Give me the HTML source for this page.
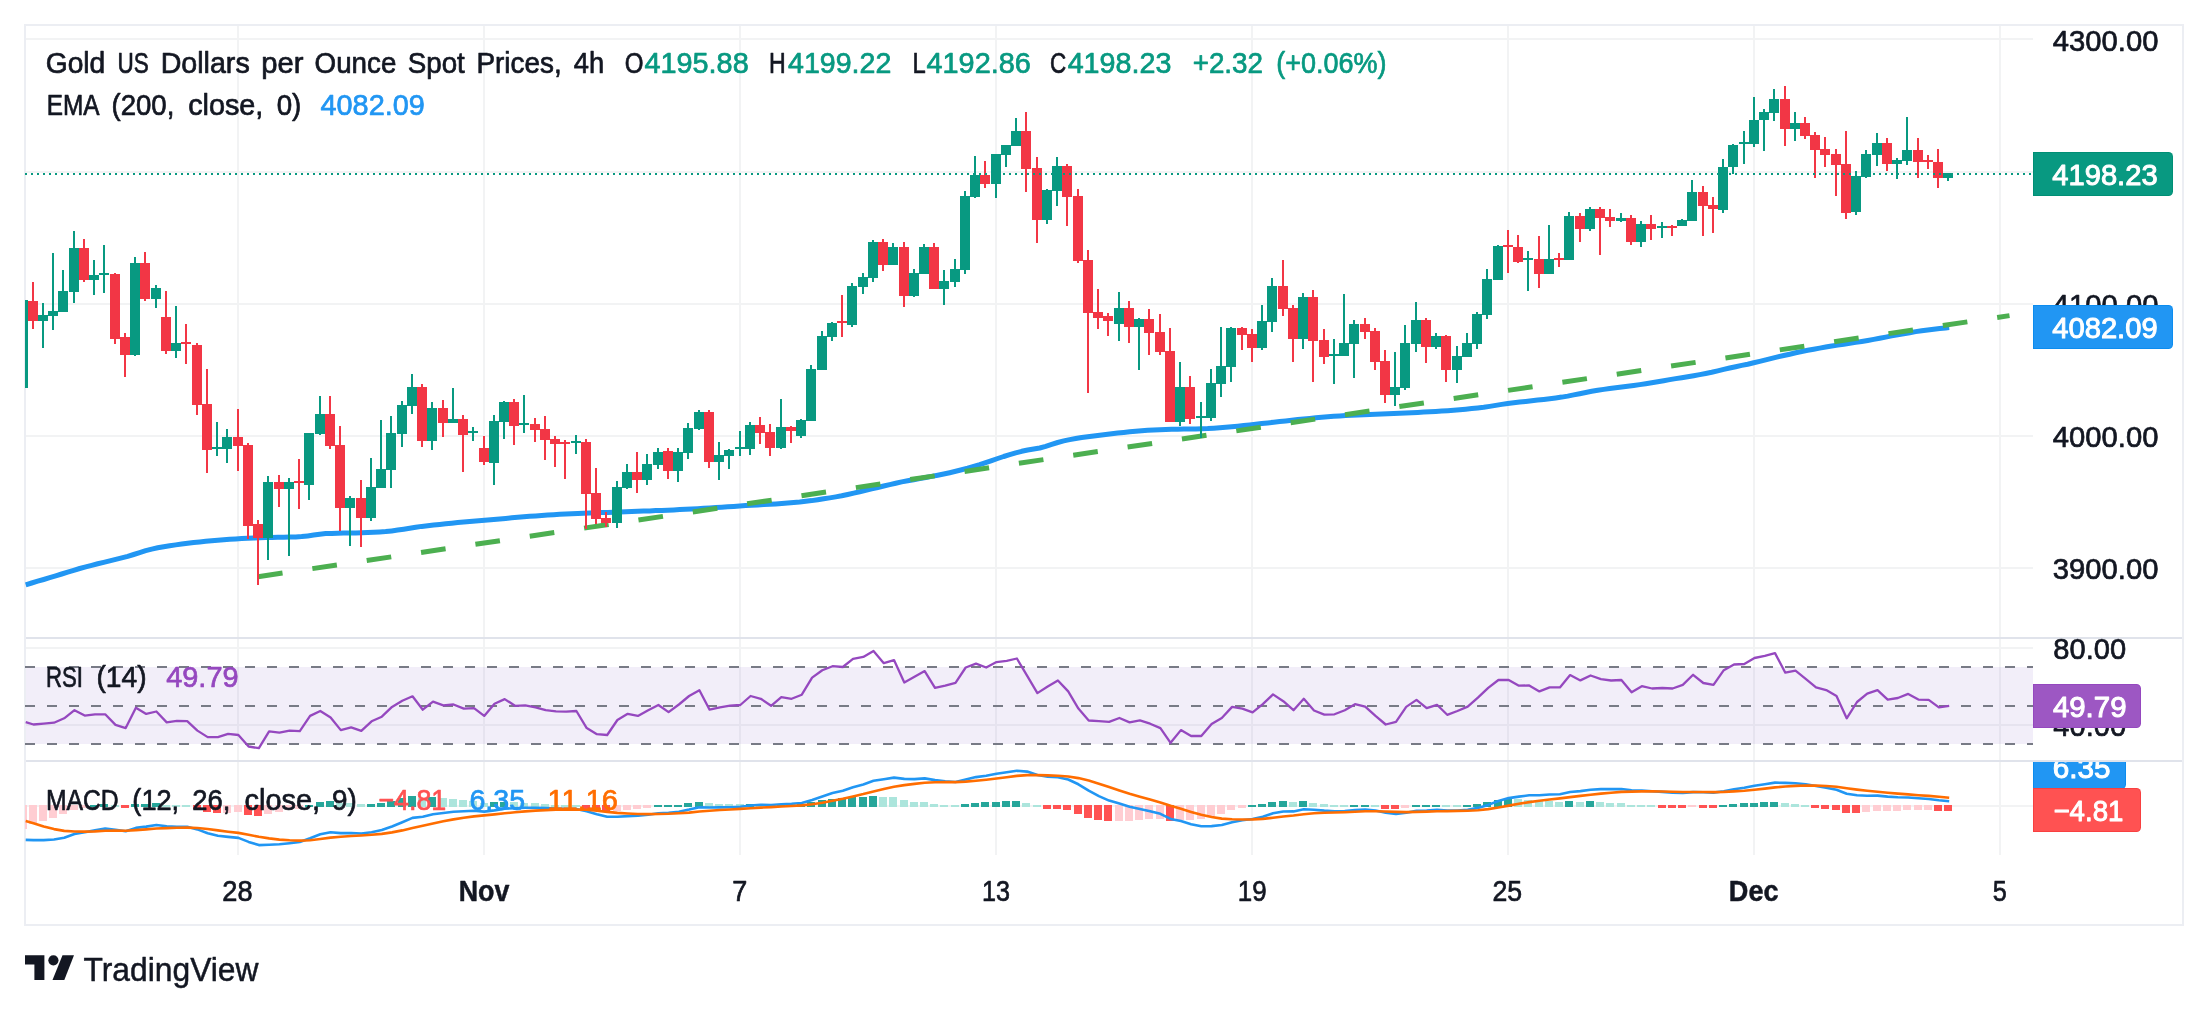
<!DOCTYPE html>
<html><head><meta charset="utf-8"><title>Gold chart</title>
<style>html,body{margin:0;padding:0;background:#fff;}body{width:2208px;height:1013px;overflow:hidden;font-family:"Liberation Sans",sans-serif;}svg{display:block;will-change:transform;}</style>
</head><body>
<svg width="2208" height="1013" viewBox="0 0 2208 1013" font-family="'Liberation Sans', sans-serif">
<rect width="2208" height="1013" fill="#fff"/>
<path shape-rendering="crispEdges" d="M24 24H2184V926H24ZM26 26V924H2182V26Z" fill="#ECEEF3" fill-rule="evenodd"/>
<g shape-rendering="crispEdges">
<rect x="237" y="26" width="2" height="829" fill="#F2F3F4"/>
<rect x="483" y="26" width="2" height="829" fill="#F2F3F4"/>
<rect x="739" y="26" width="2" height="829" fill="#F2F3F4"/>
<rect x="995" y="26" width="2" height="829" fill="#F2F3F4"/>
<rect x="1251" y="26" width="2" height="829" fill="#F2F3F4"/>
<rect x="1507" y="26" width="2" height="829" fill="#F2F3F4"/>
<rect x="1753" y="26" width="2" height="829" fill="#F2F3F4"/>
<rect x="1999" y="26" width="2" height="829" fill="#F2F3F4"/>
<rect x="26" y="38" width="2007" height="2" fill="#F2F3F4"/>
<rect x="26" y="171" width="2007" height="2" fill="#F2F3F4"/>
<rect x="26" y="303" width="2007" height="2" fill="#F2F3F4"/>
<rect x="26" y="435" width="2007" height="2" fill="#F2F3F4"/>
<rect x="26" y="567" width="2007" height="2" fill="#F2F3F4"/>
<rect x="26" y="647" width="2007" height="2" fill="#F2F3F4"/>
<rect x="26" y="724" width="2007" height="2" fill="#F2F3F4"/>
<rect x="26" y="805" width="2007" height="2" fill="#F2F3F4"/>
</g>
<g shape-rendering="crispEdges">
<rect x="26" y="667" width="2007" height="77" fill="#7E57C2" fill-opacity="0.1"/>
<line x1="25" y1="667" x2="2033" y2="667" stroke="#787B86" stroke-width="2" stroke-dasharray="10 12"/>
<line x1="25" y1="706" x2="2033" y2="706" stroke="#787B86" stroke-width="2" stroke-dasharray="10 12"/>
<line x1="25" y1="744" x2="2033" y2="744" stroke="#787B86" stroke-width="2" stroke-dasharray="10 12"/>
</g>
<clipPath id="cp1"><rect x="25" y="26" width="2008" height="611"/></clipPath>
<polyline clip-path="url(#cp1)" fill="none" stroke="#2196F3" stroke-width="5" stroke-linejoin="round" stroke-linecap="butt" points="25.7,584.8 31.7,583.0 37.7,581.2 43.7,579.5 49.7,577.7 55.7,575.9 61.7,574.0 67.7,572.2 73.7,570.3 79.7,568.5 85.7,566.9 91.7,565.3 97.7,563.8 103.7,562.4 109.7,560.9 115.7,559.4 121.7,557.9 127.7,556.3 133.7,554.5 139.7,552.6 145.7,550.7 151.7,549.1 157.7,547.8 163.7,546.7 169.7,545.8 175.7,544.9 181.7,544.1 187.7,543.3 193.7,542.5 199.7,541.9 205.7,541.3 211.7,540.7 217.7,540.2 223.7,539.7 229.7,539.2 235.7,538.9 241.7,538.5 247.7,538.2 253.7,538.0 259.7,537.8 265.7,537.6 271.7,537.4 277.7,537.3 283.7,537.2 289.7,537.1 295.7,537.0 301.7,536.6 307.7,535.9 313.7,535.1 319.7,534.2 325.7,533.6 331.7,533.4 337.7,533.2 343.7,533.1 349.7,533.0 355.7,532.9 361.7,532.7 367.7,532.5 373.7,532.3 379.7,532.0 385.7,531.6 391.7,530.9 397.7,530.1 403.7,529.2 409.7,528.3 415.7,527.3 421.7,526.4 427.7,525.7 433.7,525.0 439.7,524.4 445.7,523.8 451.7,523.2 457.7,522.6 463.7,522.1 469.7,521.5 475.7,521.0 481.7,520.5 487.7,519.9 493.7,519.4 499.7,518.9 505.7,518.4 511.7,517.8 517.7,517.3 523.7,516.8 529.7,516.3 535.7,515.9 541.7,515.4 547.7,515.0 553.7,514.7 559.7,514.3 565.7,514.0 571.7,513.7 577.7,513.5 583.7,513.2 589.7,513.0 595.7,512.8 601.7,512.6 607.7,512.4 613.7,512.2 619.7,512.0 625.7,511.8 631.7,511.6 637.7,511.3 643.7,511.1 649.7,510.9 655.7,510.6 661.7,510.4 667.7,510.2 673.7,509.9 679.7,509.6 685.7,509.3 691.7,509.0 697.7,508.7 703.7,508.3 709.7,508.0 715.7,507.6 721.7,507.2 727.7,506.8 733.7,506.4 739.7,506.0 745.7,505.6 751.7,505.3 757.7,504.9 763.7,504.6 769.7,504.2 775.7,503.9 781.7,503.5 787.7,503.0 793.7,502.5 799.7,502.0 805.7,501.3 811.7,500.6 817.7,499.7 823.7,498.8 829.7,497.9 835.7,496.9 841.7,495.8 847.7,494.5 853.7,493.1 859.7,491.7 865.7,490.3 871.7,488.9 877.7,487.5 883.7,486.0 889.7,484.6 895.7,483.2 901.7,481.9 907.7,480.8 913.7,479.7 919.7,478.6 925.7,477.5 931.7,476.4 937.7,475.2 943.7,474.0 949.7,472.7 955.7,471.3 961.7,469.8 967.7,468.2 973.7,466.4 979.7,464.6 985.7,462.6 991.7,460.6 997.7,458.5 1003.7,456.5 1009.7,454.7 1015.7,452.9 1021.7,451.3 1027.7,450.0 1033.7,449.0 1039.7,448.0 1045.7,446.4 1051.7,444.4 1057.7,442.5 1063.7,440.9 1069.7,439.6 1075.7,438.5 1081.7,437.5 1087.7,436.7 1093.7,435.9 1099.7,435.2 1105.7,434.5 1111.7,433.8 1117.7,433.1 1123.7,432.5 1129.7,431.8 1135.7,431.2 1141.7,430.7 1147.7,430.3 1153.7,430.0 1159.7,429.7 1165.7,429.5 1171.7,429.3 1177.7,429.2 1183.7,429.1 1189.7,429.0 1195.7,428.9 1201.7,428.8 1207.7,428.6 1213.7,428.2 1219.7,427.8 1225.7,427.3 1231.7,426.8 1237.7,426.2 1243.7,425.6 1249.7,424.9 1255.7,424.2 1261.7,423.5 1267.7,422.9 1273.7,422.2 1279.7,421.5 1285.7,420.9 1291.7,420.2 1297.7,419.6 1303.7,419.0 1309.7,418.4 1315.7,417.8 1321.7,417.3 1327.7,416.7 1333.7,416.3 1339.7,415.9 1345.7,415.5 1351.7,415.2 1357.7,415.0 1363.7,414.7 1369.7,414.5 1375.7,414.3 1381.7,414.0 1387.7,413.8 1393.7,413.5 1399.7,413.3 1405.7,413.0 1411.7,412.7 1417.7,412.4 1423.7,412.1 1429.7,411.8 1435.7,411.4 1441.7,411.1 1447.7,410.7 1453.7,410.2 1459.7,409.7 1465.7,409.2 1471.7,408.6 1477.7,408.0 1483.7,407.3 1489.7,406.4 1495.7,405.4 1501.7,404.4 1507.7,403.5 1513.7,402.8 1519.7,402.1 1525.7,401.4 1531.7,400.7 1537.7,400.1 1543.7,399.4 1549.7,398.7 1555.7,397.9 1561.7,397.1 1567.7,396.1 1573.7,394.9 1579.7,393.7 1585.7,392.5 1591.7,391.3 1597.7,390.3 1603.7,389.4 1609.7,388.5 1615.7,387.8 1621.7,387.0 1627.7,386.3 1633.7,385.5 1639.7,384.6 1645.7,383.7 1651.7,382.7 1657.7,381.7 1663.7,380.7 1669.7,379.6 1675.7,378.6 1681.7,377.7 1687.7,376.7 1693.7,375.7 1699.7,374.6 1705.7,373.5 1711.7,372.3 1717.7,370.9 1723.7,369.4 1729.7,368.0 1735.7,366.7 1741.7,365.4 1747.7,364.2 1753.7,362.8 1759.7,361.4 1765.7,359.9 1771.7,358.4 1777.7,356.9 1783.7,355.5 1789.7,354.2 1795.7,352.8 1801.7,351.5 1807.7,350.3 1813.7,349.2 1819.7,348.1 1825.7,347.0 1831.7,346.0 1837.7,345.1 1843.7,344.2 1849.7,343.3 1855.7,342.4 1861.7,341.5 1867.7,340.5 1873.7,339.4 1879.7,338.2 1885.7,337.1 1891.7,335.9 1897.7,334.8 1903.7,333.8 1909.7,332.7 1915.7,331.6 1921.7,330.7 1927.7,329.9 1933.7,329.2 1939.7,328.5 1945.7,327.9 1949.2,327.6"/>
<line x1="258" y1="576.75" x2="2009.5" y2="315.6" stroke="#4CAF50" stroke-width="5" stroke-dasharray="24.8 30.15"/>
<g shape-rendering="crispEdges">
<rect x="25" y="300" width="3" height="88" fill="#089981"/>
<path d="M42 303h2v45h-2zM38 315h10v6h-10zM52 253h2v77h-2zM48 311h10v5h-10zM62 270h2v42h-2zM58 291h10v21h-10zM73 231h2v72h-2zM69 248h10v44h-10zM93 260h2v35h-2zM89 275h10v5h-10zM103 245h2v48h-2zM99 273h10v2h-10zM134 257h2v99h-2zM130 263h10v92h-10zM155 285h2v23h-2zM151 288h10v11h-10zM175 306h2v52h-2zM171 343h10v8h-10zM216 422h2v34h-2zM212 447h10v2h-10zM226 429h2v34h-2zM222 437h10v12h-10zM267 476h2v84h-2zM263 482h10v56h-10zM288 478h2v78h-2zM284 482h10v7h-10zM308 433h2v67h-2zM304 433h10v52h-10zM319 396h2v39h-2zM315 414h10v20h-10zM349 496h2v50h-2zM345 498h10v10h-10zM370 458h2v63h-2zM366 487h10v31h-10zM380 420h2v68h-2zM376 469h10v19h-10zM390 416h2v72h-2zM386 433h10v37h-10zM401 401h2v46h-2zM397 405h10v29h-10zM411 374h2v40h-2zM407 387h10v19h-10zM431 402h2v48h-2zM427 408h10v33h-10zM452 388h2v35h-2zM448 419h10v4h-10zM472 427h2v14h-2zM468 431h10v2h-10zM493 415h2v70h-2zM489 421h10v42h-10zM503 401h2v38h-2zM499 402h10v20h-10zM523 395h2v38h-2zM519 423h10v2h-10zM575 435h2v19h-2zM571 441h10v2h-10zM616 481h2v47h-2zM612 487h10v36h-10zM626 464h2v25h-2zM622 472h10v16h-10zM646 454h2v31h-2zM642 464h10v16h-10zM657 448h2v21h-2zM653 452h10v13h-10zM677 448h2v34h-2zM673 452h10v19h-10zM687 423h2v36h-2zM683 428h10v25h-10zM698 410h2v20h-2zM694 412h10v17h-10zM718 442h2v38h-2zM714 455h10v7h-10zM728 449h2v20h-2zM724 450h10v6h-10zM739 431h2v25h-2zM735 447h10v2h-10zM749 422h2v33h-2zM745 425h10v24h-10zM780 399h2v50h-2zM776 427h10v21h-10zM800 419h2v19h-2zM796 420h10v16h-10zM810 365h2v56h-2zM806 369h10v52h-10zM821 331h2v39h-2zM817 336h10v34h-10zM831 322h2v19h-2zM827 323h10v14h-10zM851 283h2v44h-2zM847 286h10v39h-10zM862 273h2v21h-2zM858 277h10v10h-10zM872 240h2v42h-2zM868 242h10v36h-10zM892 243h2v22h-2zM888 247h10v18h-10zM913 269h2v28h-2zM909 273h10v23h-10zM923 244h2v30h-2zM919 247h10v27h-10zM943 270h2v35h-2zM939 281h10v8h-10zM954 259h2v28h-2zM950 269h10v13h-10zM964 191h2v83h-2zM960 196h10v74h-10zM974 156h2v42h-2zM970 175h10v22h-10zM995 154h2v44h-2zM991 154h10v30h-10zM1005 145h2v22h-2zM1001 145h10v10h-10zM1015 118h2v28h-2zM1011 131h10v15h-10zM1046 189h2v35h-2zM1042 190h10v30h-10zM1056 157h2v49h-2zM1052 166h10v25h-10zM1118 292h2v49h-2zM1114 308h10v16h-10zM1138 318h2v52h-2zM1134 319h10v8h-10zM1179 362h2v64h-2zM1175 387h10v35h-10zM1200 402h2v36h-2zM1196 416h10v2h-10zM1210 369h2v52h-2zM1206 383h10v35h-10zM1220 327h2v70h-2zM1216 366h10v18h-10zM1230 327h2v55h-2zM1226 328h10v39h-10zM1261 305h2v45h-2zM1257 321h10v27h-10zM1271 278h2v54h-2zM1267 286h10v36h-10zM1302 293h2v56h-2zM1298 297h10v42h-10zM1333 339h2v45h-2zM1329 354h10v2h-10zM1343 294h2v62h-2zM1339 343h10v13h-10zM1353 320h2v58h-2zM1349 324h10v20h-10zM1394 352h2v54h-2zM1390 387h10v8h-10zM1404 325h2v65h-2zM1400 343h10v45h-10zM1415 302h2v50h-2zM1411 320h10v24h-10zM1435 333h2v16h-2zM1431 336h10v11h-10zM1456 346h2v37h-2zM1452 356h10v14h-10zM1466 333h2v24h-2zM1462 343h10v14h-10zM1476 312h2v37h-2zM1472 314h10v30h-10zM1486 269h2v50h-2zM1482 279h10v36h-10zM1497 245h2v35h-2zM1493 246h10v34h-10zM1527 251h2v40h-2zM1523 258h10v2h-10zM1548 225h2v49h-2zM1544 259h10v15h-10zM1568 212h2v48h-2zM1564 216h10v44h-10zM1589 207h2v24h-2zM1585 209h10v20h-10zM1620 213h2v9h-2zM1616 218h10v3h-10zM1640 221h2v26h-2zM1636 224h10v18h-10zM1661 222h2v16h-2zM1657 226h10v2h-10zM1681 219h2v7h-2zM1677 220h10v6h-10zM1691 180h2v41h-2zM1687 192h10v29h-10zM1722 159h2v54h-2zM1718 167h10v43h-10zM1732 144h2v30h-2zM1728 145h10v22h-10zM1743 131h2v33h-2zM1739 142h10v2h-10zM1753 97h2v50h-2zM1749 120h10v24h-10zM1763 109h2v42h-2zM1759 112h10v8h-10zM1773 89h2v32h-2zM1769 99h10v14h-10zM1794 112h2v29h-2zM1790 123h10v6h-10zM1855 171h2v44h-2zM1851 176h10v36h-10zM1865 150h2v28h-2zM1861 154h10v23h-10zM1876 133h2v33h-2zM1872 143h10v12h-10zM1896 158h2v21h-2zM1892 160h10v4h-10zM1906 117h2v48h-2zM1902 150h10v11h-10zM1947 173h2v8h-2zM1943 173h10v5h-10z" fill="#089981"/>
<path d="M32 282h2v47h-2zM28 301h10v20h-10zM83 239h2v43h-2zM79 248h10v32h-10zM114 273h2v71h-2zM110 274h10v65h-10zM124 333h2v44h-2zM120 337h10v18h-10zM144 252h2v49h-2zM140 263h10v36h-10zM165 291h2v63h-2zM161 317h10v34h-10zM185 324h2v40h-2zM181 342h10v2h-10zM196 343h2v72h-2zM192 345h10v60h-10zM206 369h2v104h-2zM202 404h10v46h-10zM237 409h2v62h-2zM233 437h10v9h-10zM247 443h2v96h-2zM243 445h10v81h-10zM257 520h2v65h-2zM253 524h10v14h-10zM278 475h2v32h-2zM274 482h10v7h-10zM298 459h2v50h-2zM294 481h10v2h-10zM329 396h2v53h-2zM325 414h10v32h-10zM339 426h2v105h-2zM335 445h10v63h-10zM360 480h2v67h-2zM356 498h10v20h-10zM421 384h2v63h-2zM417 387h10v54h-10zM442 400h2v37h-2zM438 408h10v15h-10zM462 415h2v57h-2zM458 419h10v16h-10zM483 436h2v29h-2zM479 448h10v14h-10zM513 399h2v46h-2zM509 402h10v24h-10zM534 418h2v24h-2zM530 424h10v6h-10zM544 416h2v44h-2zM540 429h10v11h-10zM554 436h2v31h-2zM550 439h10v5h-10zM564 440h2v39h-2zM560 442h10v2h-10zM585 439h2v90h-2zM581 442h10v52h-10zM595 468h2v56h-2zM591 493h10v26h-10zM605 512h2v15h-2zM601 518h10v5h-10zM636 452h2v41h-2zM632 472h10v8h-10zM667 448h2v31h-2zM663 451h10v20h-10zM708 410h2v58h-2zM704 412h10v50h-10zM759 417h2v27h-2zM755 425h10v8h-10zM769 424h2v32h-2zM765 432h10v16h-10zM790 426h2v17h-2zM786 427h10v4h-10zM841 295h2v42h-2zM837 321h10v2h-10zM882 239h2v32h-2zM878 242h10v23h-10zM903 242h2v65h-2zM899 247h10v49h-10zM933 243h2v46h-2zM929 247h10v42h-10zM984 161h2v27h-2zM980 175h10v9h-10zM1025 112h2v80h-2zM1021 131h10v38h-10zM1036 157h2v86h-2zM1032 168h10v52h-10zM1066 164h2v62h-2zM1062 166h10v31h-10zM1077 189h2v74h-2zM1073 196h10v65h-10zM1087 250h2v143h-2zM1083 260h10v53h-10zM1097 289h2v40h-2zM1093 312h10v6h-10zM1107 313h2v23h-2zM1103 316h10v5h-10zM1128 301h2v42h-2zM1124 308h10v19h-10zM1148 309h2v46h-2zM1144 319h10v14h-10zM1159 314h2v41h-2zM1155 332h10v20h-10zM1169 328h2v94h-2zM1165 351h10v71h-10zM1189 376h2v48h-2zM1185 387h10v32h-10zM1241 327h2v23h-2zM1237 328h10v7h-10zM1251 329h2v33h-2zM1247 334h10v14h-10zM1282 260h2v56h-2zM1278 286h10v23h-10zM1292 305h2v57h-2zM1288 308h10v31h-10zM1312 290h2v92h-2zM1308 297h10v44h-10zM1323 329h2v35h-2zM1319 340h10v17h-10zM1364 318h2v21h-2zM1360 324h10v8h-10zM1374 328h2v42h-2zM1370 331h10v31h-10zM1384 350h2v53h-2zM1380 361h10v34h-10zM1425 318h2v45h-2zM1421 320h10v27h-10zM1445 335h2v47h-2zM1441 336h10v34h-10zM1507 230h2v43h-2zM1503 245h10v2h-10zM1517 235h2v28h-2zM1513 247h10v15h-10zM1538 236h2v52h-2zM1534 259h10v15h-10zM1558 253h2v14h-2zM1554 258h10v2h-10zM1579 213h2v29h-2zM1575 216h10v13h-10zM1599 207h2v48h-2zM1595 209h10v9h-10zM1609 209h2v18h-2zM1605 217h10v4h-10zM1630 215h2v30h-2zM1626 218h10v24h-10zM1650 215h2v25h-2zM1646 224h10v5h-10zM1671 225h2v11h-2zM1667 226h10v2h-10zM1702 186h2v50h-2zM1698 192h10v14h-10zM1712 197h2v36h-2zM1708 205h10v4h-10zM1784 86h2v60h-2zM1780 99h10v30h-10zM1804 117h2v22h-2zM1800 123h10v13h-10zM1814 132h2v46h-2zM1810 135h10v15h-10zM1824 137h2v30h-2zM1820 149h10v6h-10zM1835 149h2v47h-2zM1831 154h10v11h-10zM1845 131h2v88h-2zM1841 164h10v49h-10zM1886 138h2v33h-2zM1882 143h10v21h-10zM1917 138h2v40h-2zM1913 150h10v12h-10zM1927 155h2v14h-2zM1923 160h10v2h-10zM1937 149h2v39h-2zM1933 162h10v16h-10z" fill="#F23645"/>
</g>
<line x1="25" y1="174" x2="2032" y2="174" stroke="#089981" stroke-width="2" stroke-dasharray="2 4" shape-rendering="crispEdges" clip-path="url(#cp1)"/>
<clipPath id="cp2"><rect x="25" y="639" width="2008" height="121"/></clipPath>
<polyline clip-path="url(#cp2)" fill="none" stroke="#9548BF" stroke-width="2.3" stroke-linejoin="round" points="25.7,722.1 33.5,724.5 43.7,723.7 54.0,722.7 64.2,718.3 74.5,710.2 84.7,715.6 95.0,714.3 105.2,714.3 115.5,724.9 125.7,728.1 135.9,707.7 146.2,713.9 156.4,711.5 166.7,722.4 176.9,720.8 187.2,721.1 197.4,730.6 207.7,737.1 217.9,737.1 228.1,733.8 238.4,735.0 248.6,746.5 258.9,748.2 269.1,731.4 279.4,732.7 289.6,730.6 299.8,731.1 310.1,715.9 320.3,711.0 330.6,717.5 340.8,730.1 351.1,727.3 361.3,730.9 371.6,721.3 381.8,716.7 392.0,706.9 402.3,700.7 412.5,696.3 422.8,709.7 433.0,701.7 443.3,705.3 453.5,704.5 463.8,708.6 474.0,708.1 484.2,715.9 494.5,703.7 504.7,699.1 515.0,705.8 525.2,705.3 535.5,707.3 545.7,710.2 556.0,711.3 566.2,711.7 576.4,711.0 586.7,728.1 596.9,734.2 607.2,735.0 617.4,720.0 627.7,713.8 637.9,715.9 648.2,710.2 658.4,705.0 668.6,712.1 678.9,704.5 689.1,696.0 699.4,690.3 709.6,709.7 719.9,707.4 730.1,705.7 740.3,705.0 750.6,696.0 760.8,698.8 771.1,705.8 781.3,697.1 791.6,698.8 801.8,694.7 812.1,677.6 822.3,670.2 832.5,666.2 842.8,667.0 853.0,658.8 863.3,656.9 873.5,651.0 883.8,663.2 894.0,660.1 904.3,682.5 914.5,676.8 924.7,671.1 935.0,687.9 945.2,685.7 955.5,682.8 965.7,667.5 976.0,663.7 986.2,667.5 996.5,662.1 1006.7,660.8 1016.9,658.5 1027.2,675.9 1037.4,693.1 1047.7,686.5 1057.9,680.5 1068.2,691.4 1078.4,708.6 1088.7,720.5 1098.9,721.1 1109.1,721.9 1119.4,718.0 1129.6,722.4 1139.9,720.3 1150.1,723.7 1160.4,728.1 1170.6,742.8 1180.9,730.1 1191.1,736.0 1201.3,736.0 1211.6,724.1 1221.8,718.0 1232.1,706.9 1242.3,708.6 1252.6,712.3 1262.8,704.2 1273.0,694.4 1283.3,701.2 1293.5,710.2 1303.8,698.8 1314.0,710.5 1324.3,714.6 1334.5,714.3 1344.8,710.2 1355.0,704.2 1365.2,706.6 1375.5,715.9 1385.7,724.5 1396.0,721.9 1406.2,706.9 1416.5,699.9 1426.7,708.1 1437.0,704.8 1447.2,714.8 1457.4,711.0 1467.7,706.6 1477.9,697.6 1488.2,687.9 1498.4,680.0 1508.7,680.0 1518.9,685.7 1529.2,685.4 1539.4,691.4 1549.6,687.4 1559.9,687.4 1570.1,675.1 1580.4,680.4 1590.6,675.5 1600.9,679.2 1611.1,680.5 1621.4,680.0 1631.6,692.3 1641.8,686.2 1652.1,688.5 1662.3,688.0 1672.6,688.5 1682.8,684.9 1693.1,674.8 1703.3,683.0 1713.5,684.9 1723.8,670.2 1734.0,664.5 1744.3,664.0 1754.5,658.0 1764.8,655.9 1775.0,653.1 1785.3,672.7 1795.5,670.7 1805.7,678.9 1816.0,687.4 1826.2,690.1 1836.5,696.0 1846.7,718.3 1857.0,702.0 1867.2,693.6 1877.5,690.1 1887.7,699.6 1897.9,698.0 1908.2,693.9 1918.4,699.6 1928.7,699.9 1938.9,707.4 1949.2,705.8"/>
<g shape-rendering="crispEdges">
<path d="M90 805h8v2h-8zM100 804h8v3h-8zM131 804h8v3h-8zM141 804h8v3h-8zM152 803h8v4h-8zM305 805h8v2h-8zM316 802h8v5h-8zM326 801h8v6h-8zM367 804h8v3h-8zM377 803h8v4h-8zM387 801h8v6h-8zM398 798h8v9h-8zM408 796h8v11h-8zM428 797h8v10h-8zM490 802h8v5h-8zM500 802h8v5h-8zM654 805h8v2h-8zM664 805h8v2h-8zM674 805h8v2h-8zM684 803h8v4h-8zM695 802h8v5h-8zM746 804h8v3h-8zM777 804h8v3h-8zM797 804h8v3h-8zM807 802h8v5h-8zM818 800h8v7h-8zM828 799h8v8h-8zM838 798h8v9h-8zM848 797h8v10h-8zM859 797h8v10h-8zM869 796h8v11h-8zM961 804h8v3h-8zM971 803h8v4h-8zM981 802h8v5h-8zM992 802h8v5h-8zM1002 801h8v6h-8zM1012 801h8v6h-8zM1248 805h8v2h-8zM1258 804h8v3h-8zM1268 802h8v5h-8zM1279 801h8v6h-8zM1299 801h8v6h-8zM1350 805h8v2h-8zM1361 805h8v2h-8zM1412 805h8v2h-8zM1422 805h8v2h-8zM1432 805h8v2h-8zM1463 805h8v2h-8zM1473 804h8v3h-8zM1483 802h8v5h-8zM1494 800h8v7h-8zM1504 799h8v8h-8zM1565 801h8v6h-8zM1586 801h8v6h-8zM1719 805h8v2h-8zM1729 804h8v3h-8zM1740 803h8v4h-8zM1750 803h8v4h-8zM1760 802h8v5h-8zM1770 802h8v5h-8z" fill="#26A69A"/>
<path d="M111 805h8v2h-8zM162 805h8v2h-8zM172 805h8v2h-8zM182 805h8v2h-8zM336 803h8v4h-8zM346 803h8v4h-8zM357 804h8v3h-8zM418 798h8v9h-8zM439 798h8v9h-8zM449 799h8v8h-8zM459 800h8v7h-8zM469 801h8v6h-8zM480 803h8v4h-8zM510 802h8v5h-8zM520 803h8v4h-8zM531 803h8v4h-8zM541 804h8v3h-8zM551 805h8v2h-8zM561 805h8v2h-8zM572 805h8v2h-8zM705 803h8v4h-8zM715 804h8v3h-8zM725 804h8v3h-8zM736 804h8v3h-8zM756 804h8v3h-8zM766 804h8v3h-8zM787 804h8v3h-8zM879 797h8v10h-8zM889 797h8v10h-8zM900 800h8v7h-8zM910 802h8v5h-8zM920 802h8v5h-8zM930 804h8v3h-8zM940 805h8v2h-8zM951 805h8v2h-8zM1022 803h8v4h-8zM1033 805h8v2h-8zM1289 802h8v5h-8zM1309 803h8v4h-8zM1320 804h8v3h-8zM1330 805h8v2h-8zM1340 805h8v2h-8zM1371 805h8v2h-8zM1442 805h8v2h-8zM1453 805h8v2h-8zM1514 799h8v8h-8zM1524 800h8v7h-8zM1535 801h8v6h-8zM1545 801h8v6h-8zM1555 802h8v5h-8zM1576 802h8v5h-8zM1596 802h8v5h-8zM1606 803h8v4h-8zM1617 803h8v4h-8zM1627 805h8v2h-8zM1637 805h8v2h-8zM1647 805h8v2h-8zM1781 803h8v4h-8zM1791 804h8v3h-8zM1801 805h8v2h-8z" fill="#ACE5DC"/>
<path d="M121 805h8v3h-8zM193 805h8v4h-8zM203 805h8v7h-8zM213 805h8v8h-8zM244 805h8v10h-8zM254 805h8v11h-8zM582 805h8v4h-8zM592 805h8v6h-8zM602 805h8v7h-8zM1043 805h8v4h-8zM1053 805h8v4h-8zM1063 805h8v5h-8zM1074 805h8v9h-8zM1084 805h8v13h-8zM1094 805h8v15h-8zM1104 805h8v16h-8zM1166 805h8v16h-8zM1381 805h8v4h-8zM1391 805h8v4h-8zM1658 805h8v3h-8zM1668 805h8v3h-8zM1678 805h8v3h-8zM1699 805h8v3h-8zM1709 805h8v3h-8zM1811 805h8v3h-8zM1821 805h8v4h-8zM1832 805h8v5h-8zM1842 805h8v8h-8zM1852 805h8v8h-8zM1934 805h8v6h-8zM1944 805h8v6h-8z" fill="#FF5252"/>
<path d="M25 805h2v24h-2zM29 805h8v19h-8zM39 805h8v16h-8zM49 805h8v13h-8zM59 805h8v9h-8zM70 805h8v5h-8zM80 805h8v3h-8zM223 805h8v8h-8zM234 805h8v7h-8zM264 805h8v9h-8zM275 805h8v7h-8zM285 805h8v5h-8zM295 805h8v4h-8zM613 805h8v6h-8zM623 805h8v5h-8zM633 805h8v4h-8zM643 805h8v3h-8zM1115 805h8v16h-8zM1125 805h8v16h-8zM1135 805h8v15h-8zM1145 805h8v14h-8zM1156 805h8v14h-8zM1176 805h8v15h-8zM1186 805h8v15h-8zM1197 805h8v14h-8zM1207 805h8v11h-8zM1217 805h8v9h-8zM1227 805h8v5h-8zM1238 805h8v3h-8zM1401 805h8v3h-8zM1688 805h8v2h-8zM1862 805h8v7h-8zM1873 805h8v6h-8zM1883 805h8v6h-8zM1893 805h8v6h-8zM1903 805h8v5h-8zM1914 805h8v5h-8zM1924 805h8v5h-8z" fill="#FFCDD2"/>
</g>
<clipPath id="cp3"><rect x="25" y="762" width="2008" height="93"/></clipPath>
<polyline clip-path="url(#cp3)" fill="none" stroke="#2196F3" stroke-width="2.6" stroke-linejoin="round" points="25.7,839.9 33.5,840.1 43.7,840.1 54.0,839.5 64.2,837.7 74.5,834.0 84.7,832.3 95.0,830.4 105.2,828.5 115.5,829.7 125.7,831.2 135.9,827.9 146.2,826.6 156.4,825.0 166.7,826.3 176.9,826.7 187.2,826.8 197.4,829.4 207.7,833.2 217.9,835.7 228.1,836.9 238.4,837.9 248.6,841.9 258.9,845.1 269.1,844.7 279.4,844.3 289.6,843.2 299.8,841.9 310.1,838.3 320.3,834.3 330.6,832.2 340.8,833.1 351.1,833.0 361.3,833.5 371.6,832.2 381.8,830.1 392.0,826.5 402.3,822.3 412.5,817.9 422.8,816.8 433.0,814.3 443.3,813.0 453.5,811.7 463.8,811.3 474.0,810.7 484.2,811.6 494.5,810.4 504.7,808.6 515.0,808.2 525.2,807.8 535.5,807.7 545.7,808.1 556.0,808.5 566.2,808.8 576.4,808.9 586.7,811.3 596.9,814.3 607.2,816.7 617.4,816.8 627.7,816.1 637.9,815.8 648.2,814.8 658.4,813.3 668.6,812.9 678.9,811.7 689.1,809.6 699.4,807.2 709.6,807.5 719.9,807.4 730.1,807.2 740.3,806.8 750.6,805.5 760.8,804.8 771.1,805.0 781.3,804.2 791.6,803.8 801.8,803.0 812.1,800.1 822.3,796.5 832.5,793.1 842.8,790.7 853.0,787.2 863.3,784.4 873.5,780.8 883.8,779.3 894.0,777.6 904.3,778.9 914.5,779.1 924.7,778.4 935.0,780.1 945.2,781.3 955.5,782.0 965.7,779.6 976.0,777.1 986.2,775.8 996.5,773.8 1006.7,772.2 1016.9,770.7 1027.2,771.6 1037.4,775.0 1047.7,776.7 1057.9,777.3 1068.2,779.5 1078.4,784.3 1088.7,790.7 1098.9,796.1 1109.1,800.6 1119.4,803.6 1129.6,806.8 1139.9,809.0 1150.1,811.2 1160.4,813.8 1170.6,818.9 1180.9,821.1 1191.1,824.2 1201.3,826.2 1211.6,826.1 1221.8,825.0 1232.1,822.2 1242.3,820.2 1252.6,819.0 1262.8,816.7 1273.0,813.3 1283.3,811.5 1293.5,811.4 1303.8,809.3 1314.0,809.7 1324.3,810.6 1334.5,811.2 1344.8,811.1 1355.0,810.0 1365.2,809.6 1375.5,810.5 1385.7,812.7 1396.0,813.9 1406.2,812.8 1416.5,810.9 1426.7,810.5 1437.0,809.7 1447.2,810.5 1457.4,810.5 1467.7,809.8 1477.9,807.9 1488.2,804.9 1498.4,801.0 1508.7,798.1 1518.9,796.6 1529.2,795.3 1539.4,795.2 1549.6,794.5 1559.9,794.2 1570.1,792.0 1580.4,791.1 1590.6,789.7 1600.9,789.1 1611.1,789.1 1621.4,789.0 1631.6,790.3 1641.8,790.6 1652.1,791.3 1662.3,791.9 1672.6,792.6 1682.8,792.9 1693.1,792.1 1703.3,792.2 1713.5,792.6 1723.8,791.2 1734.0,789.2 1744.3,787.8 1754.5,785.8 1764.8,784.2 1775.0,782.6 1785.3,782.9 1795.5,783.2 1805.7,784.3 1816.0,786.0 1826.2,787.7 1836.5,789.8 1846.7,793.7 1857.0,795.3 1867.2,795.7 1877.5,795.6 1887.7,796.6 1897.9,797.3 1908.2,797.5 1918.4,798.3 1928.7,799.0 1938.9,800.3 1949.2,801.2"/>
<polyline clip-path="url(#cp3)" fill="none" stroke="#FF6D00" stroke-width="2.6" stroke-linejoin="round" points="25.7,821.0 33.5,823.2 43.7,826.6 54.0,829.1 64.2,830.9 74.5,831.5 84.7,831.6 95.0,831.4 105.2,830.8 115.5,830.6 125.7,830.7 135.9,830.1 146.2,829.4 156.4,828.5 166.7,828.1 176.9,827.8 187.2,827.6 197.4,828.0 207.7,829.0 217.9,830.4 228.1,831.7 238.4,832.9 248.6,834.7 258.9,836.8 269.1,838.4 279.4,839.6 289.6,840.3 299.8,840.6 310.1,840.2 320.3,839.0 330.6,837.6 340.8,836.7 351.1,836.0 361.3,835.5 371.6,834.8 381.8,833.9 392.0,832.4 402.3,830.4 412.5,827.9 422.8,825.7 433.0,823.4 443.3,821.3 453.5,819.4 463.8,817.8 474.0,816.4 484.2,815.4 494.5,814.4 504.7,813.3 515.0,812.3 525.2,811.4 535.5,810.6 545.7,810.1 556.0,809.8 566.2,809.6 576.4,809.5 586.7,809.8 596.9,810.7 607.2,811.9 617.4,812.9 627.7,813.5 637.9,814.0 648.2,814.1 658.4,814.0 668.6,813.8 678.9,813.3 689.1,812.6 699.4,811.5 709.6,810.7 719.9,810.0 730.1,809.5 740.3,808.9 750.6,808.2 760.8,807.6 771.1,807.1 781.3,806.5 791.6,806.0 801.8,805.4 812.1,804.3 822.3,802.8 832.5,800.8 842.8,798.8 853.0,796.5 863.3,794.1 873.5,791.4 883.8,789.0 894.0,786.7 904.3,785.1 914.5,783.9 924.7,782.8 935.0,782.3 945.2,782.1 955.5,782.1 965.7,781.6 976.0,780.7 986.2,779.7 996.5,778.5 1006.7,777.3 1016.9,775.9 1027.2,775.1 1037.4,775.1 1047.7,775.4 1057.9,775.8 1068.2,776.5 1078.4,778.1 1088.7,780.6 1098.9,783.7 1109.1,787.1 1119.4,790.4 1129.6,793.7 1139.9,796.7 1150.1,799.6 1160.4,802.5 1170.6,805.8 1180.9,808.8 1191.1,811.9 1201.3,814.8 1211.6,817.0 1221.8,818.6 1232.1,819.3 1242.3,819.5 1252.6,819.4 1262.8,818.9 1273.0,817.8 1283.3,816.5 1293.5,815.5 1303.8,814.2 1314.0,813.3 1324.3,812.8 1334.5,812.5 1344.8,812.2 1355.0,811.8 1365.2,811.3 1375.5,811.2 1385.7,811.5 1396.0,811.9 1406.2,812.1 1416.5,811.9 1426.7,811.6 1437.0,811.2 1447.2,811.1 1457.4,810.9 1467.7,810.7 1477.9,810.2 1488.2,809.1 1498.4,807.5 1508.7,805.6 1518.9,803.8 1529.2,802.1 1539.4,800.7 1549.6,799.5 1559.9,798.4 1570.1,797.1 1580.4,795.9 1590.6,794.7 1600.9,793.6 1611.1,792.7 1621.4,791.9 1631.6,791.6 1641.8,791.4 1652.1,791.4 1662.3,791.5 1672.6,791.7 1682.8,792.0 1693.1,792.0 1703.3,792.0 1713.5,792.1 1723.8,791.9 1734.0,791.4 1744.3,790.7 1754.5,789.7 1764.8,788.6 1775.0,787.4 1785.3,786.5 1795.5,785.9 1805.7,785.5 1816.0,785.6 1826.2,786.0 1836.5,786.8 1846.7,788.2 1857.0,789.6 1867.2,790.8 1877.5,791.8 1887.7,792.7 1897.9,793.6 1908.2,794.4 1918.4,795.2 1928.7,795.9 1938.9,796.8 1949.2,797.7"/>
<g shape-rendering="crispEdges">
<rect x="26" y="637" width="2156" height="2" fill="#E0E3EB"/>
<rect x="26" y="760" width="2156" height="2" fill="#E0E3EB"/>
</g>
<text transform="translate(2052.85 50.80) scale(1.0009 1)" font-size="29.2" fill="#131722" stroke="#131722" stroke-width="0.7" stroke-linejoin="round">4300.00</text>
<text transform="translate(2052.85 314.90) scale(1.0009 1)" font-size="29.2" fill="#131722" stroke="#131722" stroke-width="0.7" stroke-linejoin="round">4100.00</text>
<text transform="translate(2052.85 447.20) scale(1.0009 1)" font-size="29.2" fill="#131722" stroke="#131722" stroke-width="0.7" stroke-linejoin="round">4000.00</text>
<text transform="translate(2052.85 579.40) scale(1.0009 1)" font-size="29.2" fill="#131722" stroke="#131722" stroke-width="0.7" stroke-linejoin="round">3900.00</text>
<text transform="translate(2053.35 659.20) scale(0.9959 1)" font-size="29.2" fill="#131722" stroke="#131722" stroke-width="0.7" stroke-linejoin="round">80.00</text>
<text transform="translate(2053.35 736.20) scale(0.9959 1)" font-size="29.2" fill="#131722" stroke="#131722" stroke-width="0.7" stroke-linejoin="round">40.00</text>
<path d="M2033 152H2168.5a4.5 4.5 0 0 1 4.5 4.5V191.5a4.5 4.5 0 0 1 -4.5 4.5H2033Z" fill="#008F75"/><path d="M2034 153H2168.5a3.5 3.5 0 0 1 3.5 3.5V191.5a3.5 3.5 0 0 1 -3.5 3.5H2034Z" fill="#089981"/>
<text transform="translate(2052.30 185.00) scale(0.9981 1)" font-size="29.2" fill="#fff" stroke="#fff" stroke-width="1.0" stroke-linejoin="round">4198.23</text>
<path d="M2033 305H2168.5a4.5 4.5 0 0 1 4.5 4.5V344.5a4.5 4.5 0 0 1 -4.5 4.5H2033Z" fill="#0C8CEF"/><path d="M2034 306H2168.5a3.5 3.5 0 0 1 3.5 3.5V344.5a3.5 3.5 0 0 1 -3.5 3.5H2034Z" fill="#2196F3"/>
<text transform="translate(2052.30 338.10) scale(0.9981 1)" font-size="29.2" fill="#fff" stroke="#fff" stroke-width="1.0" stroke-linejoin="round">4082.09</text>
<path d="M2033 684H2136.5a4.5 4.5 0 0 1 4.5 4.5V723.5a4.5 4.5 0 0 1 -4.5 4.5H2033Z" fill="#9548BF"/><path d="M2034 685H2136.5a3.5 3.5 0 0 1 3.5 3.5V723.5a3.5 3.5 0 0 1 -3.5 3.5H2034Z" fill="#9D57C3"/>
<text transform="translate(2052.90 717.10) scale(1.0082 1)" font-size="29.2" fill="#fff" stroke="#fff" stroke-width="1.0" stroke-linejoin="round">49.79</text>
<clipPath id="cp4"><rect x="2033" y="762" width="149" height="93"/></clipPath>
<g clip-path="url(#cp4)">
<path d="M2033 745H2121.5a4.5 4.5 0 0 1 4.5 4.5V784.5a4.5 4.5 0 0 1 -4.5 4.5H2033Z" fill="#0C8CEF"/><path d="M2034 746H2121.5a3.5 3.5 0 0 1 3.5 3.5V784.5a3.5 3.5 0 0 1 -3.5 3.5H2034Z" fill="#2196F3"/>
<text transform="translate(2052.80 777.70) scale(1.0158 1)" font-size="29.2" fill="#fff" stroke="#fff" stroke-width="1.0" stroke-linejoin="round">6.35</text>
</g>
<path d="M2033 788H2136.5a4.5 4.5 0 0 1 4.5 4.5V827.5a4.5 4.5 0 0 1 -4.5 4.5H2033Z" fill="#F84040"/><path d="M2034 789H2136.5a3.5 3.5 0 0 1 3.5 3.5V827.5a3.5 3.5 0 0 1 -3.5 3.5H2034Z" fill="#FF5252"/>
<text transform="translate(2053.50 821.10) scale(0.9459 1)" font-size="29.2" fill="#fff" stroke="#fff" stroke-width="1.0" stroke-linejoin="round">−4.81</text>
<text transform="translate(222.35 900.80) scale(0.9323 1)" font-size="29.2" fill="#131722" stroke="#131722" stroke-width="0.7" stroke-linejoin="round">28</text>
<text transform="translate(458.75 900.80) scale(0.9185 1)" font-size="29.2" fill="#131722" font-weight="700" stroke="#131722" stroke-width="0.5" stroke-linejoin="round">Nov</text>
<text transform="translate(732.25 900.80) scale(0.9259 1)" font-size="29.2" fill="#131722" stroke="#131722" stroke-width="0.7" stroke-linejoin="round">7</text>
<text transform="translate(981.95 900.80) scale(0.8615 1)" font-size="29.2" fill="#131722" stroke="#131722" stroke-width="0.7" stroke-linejoin="round">13</text>
<text transform="translate(1237.85 900.80) scale(0.8892 1)" font-size="29.2" fill="#131722" stroke="#131722" stroke-width="0.7" stroke-linejoin="round">19</text>
<text transform="translate(1492.45 900.80) scale(0.9138 1)" font-size="29.2" fill="#131722" stroke="#131722" stroke-width="0.7" stroke-linejoin="round">25</text>
<text transform="translate(1728.85 900.80) scale(0.9272 1)" font-size="29.2" fill="#131722" font-weight="700" stroke="#131722" stroke-width="0.5" stroke-linejoin="round">Dec</text>
<text transform="translate(1992.75 900.80) scale(0.8642 1)" font-size="29.2" fill="#131722" stroke="#131722" stroke-width="0.7" stroke-linejoin="round">5</text>
<text transform="translate(45.75 72.70) scale(0.9660 1)" font-size="29.2" fill="#131722" stroke="#131722" stroke-width="0.7" stroke-linejoin="round">Gold</text>
<text transform="translate(117.55 72.70) scale(0.7709 1)" font-size="29.2" fill="#131722" stroke="#131722" stroke-width="0.7" stroke-linejoin="round">US</text>
<text transform="translate(160.65 72.70) scale(0.9802 1)" font-size="29.2" fill="#131722" stroke="#131722" stroke-width="0.7" stroke-linejoin="round">Dollars</text>
<text transform="translate(261.35 72.70) scale(1.0000 1)" font-size="29.2" fill="#131722" stroke="#131722" stroke-width="0.7" stroke-linejoin="round">per</text>
<text transform="translate(314.55 72.70) scale(0.9512 1)" font-size="29.2" fill="#131722" stroke="#131722" stroke-width="0.7" stroke-linejoin="round">Ounce</text>
<text transform="translate(407.75 72.70) scale(0.9501 1)" font-size="29.2" fill="#131722" stroke="#131722" stroke-width="0.7" stroke-linejoin="round">Spot</text>
<text transform="translate(476.45 72.70) scale(0.9552 1)" font-size="29.2" fill="#131722" stroke="#131722" stroke-width="0.7" stroke-linejoin="round">Prices,</text>
<text transform="translate(573.85 72.70) scale(0.9354 1)" font-size="29.2" fill="#131722" stroke="#131722" stroke-width="0.7" stroke-linejoin="round">4h</text>
<text transform="translate(624.75 72.70) scale(0.8238 1)" font-size="29.2" fill="#131722" stroke="#131722" stroke-width="0.7" stroke-linejoin="round">O</text>
<text transform="translate(644.45 72.70) scale(0.9877 1)" font-size="29.2" fill="#089981" stroke="#089981" stroke-width="0.7" stroke-linejoin="round">4195.88</text>
<text transform="translate(769.05 72.70) scale(0.7915 1)" font-size="29.2" fill="#131722" stroke="#131722" stroke-width="0.7" stroke-linejoin="round">H</text>
<text transform="translate(788.05 72.70) scale(0.9791 1)" font-size="29.2" fill="#089981" stroke="#089981" stroke-width="0.7" stroke-linejoin="round">4199.22</text>
<text transform="translate(912.45 72.70) scale(0.8148 1)" font-size="29.2" fill="#131722" stroke="#131722" stroke-width="0.7" stroke-linejoin="round">L</text>
<text transform="translate(926.55 72.70) scale(0.9877 1)" font-size="29.2" fill="#089981" stroke="#089981" stroke-width="0.7" stroke-linejoin="round">4192.86</text>
<text transform="translate(1050.05 72.70) scale(0.7678 1)" font-size="29.2" fill="#131722" stroke="#131722" stroke-width="0.7" stroke-linejoin="round">C</text>
<text transform="translate(1067.65 72.70) scale(0.9829 1)" font-size="29.2" fill="#089981" stroke="#089981" stroke-width="0.7" stroke-linejoin="round">4198.23</text>
<text transform="translate(1192.65 72.70) scale(0.9526 1)" font-size="29.2" fill="#089981" stroke="#089981" stroke-width="0.7" stroke-linejoin="round">+2.32</text>
<text transform="translate(1276.25 72.70) scale(0.9246 1)" font-size="29.2" fill="#089981" stroke="#089981" stroke-width="0.7" stroke-linejoin="round">(+0.06%)</text>
<text transform="translate(46.65 115.00) scale(0.8341 1)" font-size="29.2" fill="#131722" stroke="#131722" stroke-width="0.7" stroke-linejoin="round">EMA</text>
<text transform="translate(111.45 115.00) scale(0.9459 1)" font-size="29.2" fill="#131722" stroke="#131722" stroke-width="0.7" stroke-linejoin="round">(200,</text>
<text transform="translate(188.15 115.00) scale(0.9856 1)" font-size="29.2" fill="#131722" stroke="#131722" stroke-width="0.7" stroke-linejoin="round">close,</text>
<text transform="translate(276.65 115.00) scale(0.9500 1)" font-size="29.2" fill="#131722" stroke="#131722" stroke-width="0.7" stroke-linejoin="round">0)</text>
<text transform="translate(320.55 115.00) scale(0.9877 1)" font-size="29.2" fill="#2196F3" stroke="#2196F3" stroke-width="0.7" stroke-linejoin="round">4082.09</text>
<text transform="translate(45.95 687.10) scale(0.7598 1)" font-size="29.2" fill="#131722" stroke="#131722" stroke-width="0.7" stroke-linejoin="round">RSI</text>
<text transform="translate(96.45 687.10) scale(0.9653 1)" font-size="29.2" fill="#131722" stroke="#131722" stroke-width="0.7" stroke-linejoin="round">(14)</text>
<text transform="translate(166.15 687.10) scale(0.9918 1)" font-size="29.2" fill="#9548BF" stroke="#9548BF" stroke-width="0.7" stroke-linejoin="round">49.79</text>
<text transform="translate(45.95 809.90) scale(0.8465 1)" font-size="29.2" fill="#131722" stroke="#131722" stroke-width="0.7" stroke-linejoin="round">MACD</text>
<text transform="translate(132.35 809.90) scale(0.9304 1)" font-size="29.2" fill="#131722" stroke="#131722" stroke-width="0.7" stroke-linejoin="round">(12,</text>
<text transform="translate(192.35 809.90) scale(0.9384 1)" font-size="29.2" fill="#131722" stroke="#131722" stroke-width="0.7" stroke-linejoin="round">26,</text>
<text transform="translate(244.55 809.90) scale(0.9908 1)" font-size="29.2" fill="#131722" stroke="#131722" stroke-width="0.7" stroke-linejoin="round">close,</text>
<text transform="translate(332.05 809.90) scale(0.9538 1)" font-size="29.2" fill="#131722" stroke="#131722" stroke-width="0.7" stroke-linejoin="round">9)</text>
<text transform="translate(378.25 809.90) scale(0.9215 1)" font-size="29.2" fill="#FF5252" stroke="#FF5252" stroke-width="0.7" stroke-linejoin="round">−4.81</text>
<text transform="translate(469.45 809.90) scale(0.9806 1)" font-size="29.2" fill="#2196F3" stroke="#2196F3" stroke-width="0.7" stroke-linejoin="round">6.35</text>
<text transform="translate(547.55 809.90) scale(0.9929 1)" font-size="29.2" fill="#FF6D00" stroke="#FF6D00" stroke-width="0.7" stroke-linejoin="round">11.16</text>
<path d="M25 955.2H44.4V979.9H34.4V964.6H25Z" fill="#131722"/>
<circle cx="53.4" cy="960.3" r="5.1" fill="#131722"/>
<path d="M62.5 955.2H74L64.3 979.9H52.5Z" fill="#131722"/>
<text transform="translate(83.45 980.80) scale(0.9642 1)" font-size="33.0" fill="#131722" stroke="#131722" stroke-width="0.5" stroke-linejoin="round">TradingView</text>
</svg>
</body></html>
